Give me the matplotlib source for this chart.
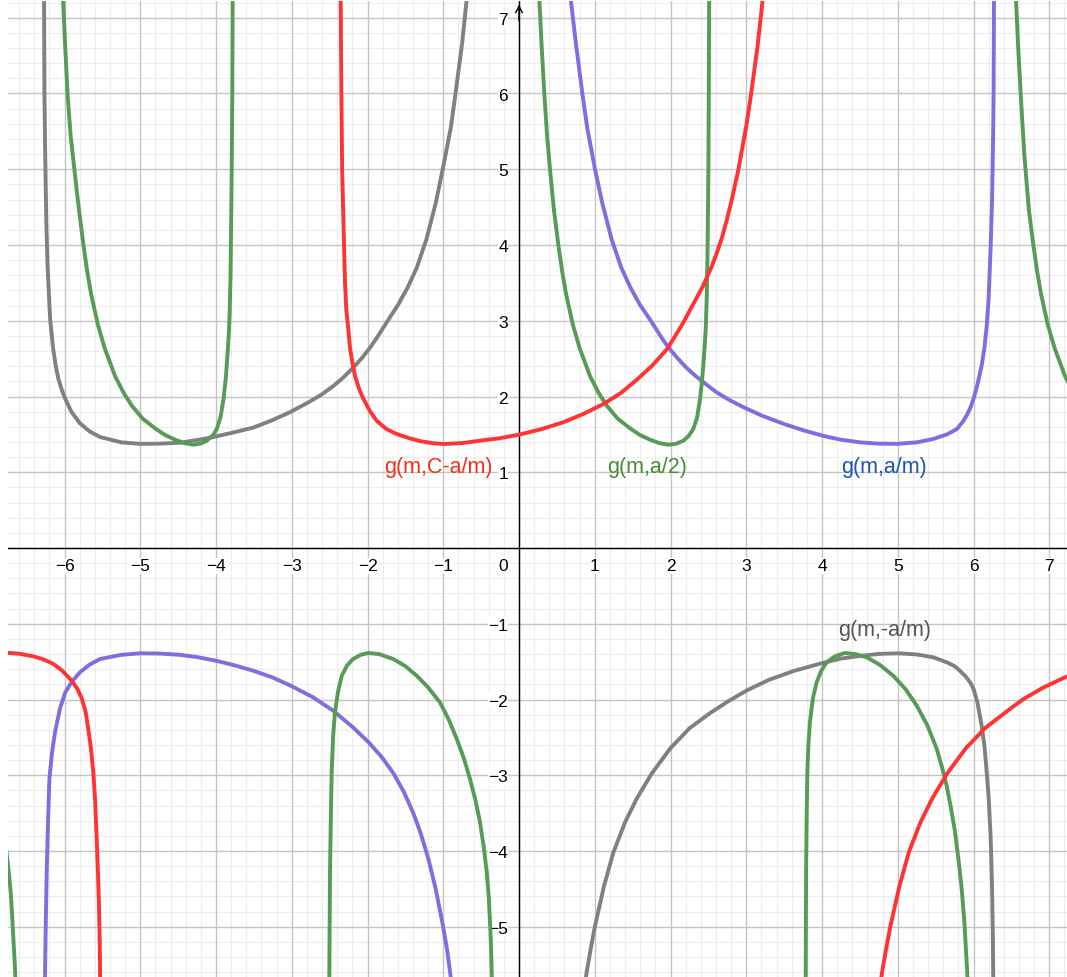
import numpy as np
import matplotlib
matplotlib.use('Agg')
import matplotlib.pyplot as plt

plt.rcParams['font.family'] = ['Liberation Sans', 'DejaVu Sans']

# Curve branches (x, y pairs)
# g(m,a/m) - purple
purple_pos_x = [0.66, 0.682, 0.75, 0.836, 0.9, 1.003, 1.1, 1.224, 1.35, 1.47, 1.597, 1.74, 1.88, 1.97,
                2.08, 2.2, 2.32, 2.433, 2.6, 2.785, 2.96, 3.2, 3.49, 3.75, 4.017, 4.25, 4.5, 4.75,
                5.0, 5.25, 5.47, 5.65, 5.78, 5.86, 5.91, 5.96, 6.0, 6.05, 6.108, 6.145, 6.174, 6.2,
                6.227, 6.245, 6.258, 6.265, 6.27, 6.272]
purple_pos_y = [7.6, 7.25, 6.67, 6.0, 5.55, 5.0, 4.55, 4.07, 3.7, 3.44, 3.21, 3.0, 2.78, 2.65,
                2.52, 2.39, 2.28, 2.19, 2.06, 1.95, 1.86, 1.75, 1.64, 1.555, 1.48, 1.43, 1.395, 1.378,
                1.375, 1.395, 1.44, 1.5, 1.57, 1.67, 1.75, 1.855, 1.97, 2.15, 2.41, 2.65, 2.93, 3.3,
                4.0, 4.6, 5.4, 6.0, 7.25, 7.6]
purple_neg_x = [-6.262, -6.257, -6.248, -6.235, -6.22, -6.2, -6.165, -6.125, -6.06, -5.99, -5.9,
                -5.795, -5.67, -5.53, -5.25, -5.0, -4.75, -4.475, -4.25, -3.99, -3.75, -3.507,
                -3.25, -3.01, -2.72, -2.45, -2.2, -1.99, -1.82, -1.66, -1.52, -1.395, -1.3,
                -1.197, -1.1, -1.007, -0.95, -0.91, -0.86]
purple_neg_y = [-6.0, -5.62, -5.0, -4.28, -3.7, -3.05, -2.7, -2.43, -2.12, -1.905, -1.76,
                -1.64, -1.54, -1.465, -1.41, -1.39, -1.393, -1.41, -1.44, -1.49, -1.55, -1.62,
                -1.71, -1.82, -1.97, -2.15, -2.36, -2.56, -2.75, -2.97, -3.22, -3.5, -3.76,
                -4.1, -4.5, -4.97, -5.3, -5.6, -6.0]

# g(m,-a/m) - gray
gray_pos_x = [-6.272, -6.27, -6.265, -6.255, -6.24, -6.225, -6.19, -6.15, -6.115, -6.08, -6.03,
              -5.99, -5.91, -5.8, -5.67, -5.53, -5.25, -5.0, -4.75, -4.475, -4.25, -4.036, -3.75,
              -3.507, -3.25, -3.01, -2.785, -2.6, -2.45, -2.32, -2.2, -2.08, -1.97, -1.88, -1.74,
              -1.597, -1.47, -1.35, -1.224, -1.1, -1.007, -0.9, -0.845, -0.75, -0.69, -0.66]
gray_pos_y = [7.6, 7.25, 6.0, 5.2, 4.3, 3.75, 3.02, 2.63, 2.4, 2.23, 2.07,
              1.97, 1.8, 1.65, 1.54, 1.465, 1.395, 1.375, 1.378, 1.39, 1.425, 1.465, 1.53,
              1.59, 1.69, 1.8, 1.92, 2.03, 2.14, 2.25, 2.37, 2.5, 2.64, 2.77, 2.99,
              3.21, 3.44, 3.7, 4.07, 4.55, 5.0, 5.55, 5.95, 6.67, 7.25, 7.6]
gray_neg_x = [0.835, 0.893, 0.95, 1.003, 1.12, 1.245, 1.4, 1.553, 1.75, 1.993, 2.25, 2.521, 2.75,
              3.006, 3.3, 3.62, 4.017, 4.25, 4.5, 4.75, 5.007, 5.25, 5.47, 5.65, 5.75, 5.82, 5.9,
              5.96, 6.0, 6.05, 6.108, 6.145, 6.174, 6.2, 6.227, 6.245, 6.255, 6.26, 6.265]
gray_neg_y = [-6.0, -5.6, -5.27, -4.99, -4.47, -4.02, -3.62, -3.31, -2.98, -2.65, -2.38, -2.18, -2.03,
              -1.88, -1.74, -1.625, -1.515, -1.46, -1.425, -1.398, -1.39, -1.405, -1.443, -1.51, -1.56,
              -1.62, -1.7, -1.78, -1.86, -2.03, -2.35, -2.62, -2.96, -3.3, -3.84, -4.5, -5.1,
              -5.62, -6.0]

# g(m,C-a/m) - red
red_pos_x = [-2.357, -2.352, -2.345, -2.335, -2.31, -2.297, -2.28, -2.25, -2.23, -2.2, -2.165,
             -2.11, -2.055, -1.97, -1.88, -1.75, -1.615, -1.45, -1.3, -1.15, -1.0, -0.75, -0.515,
             -0.25, 0.0, 0.3, 0.585, 0.85, 1.113, 1.35, 1.553, 1.75, 1.95, 2.05, 2.16, 2.3,
             2.43, 2.55, 2.62, 2.68, 2.74, 2.8, 2.893, 3.0, 3.055, 3.15, 3.21, 3.24, 3.26]
red_pos_y = [7.6, 7.0, 6.0, 5.0, 4.0, 3.5, 3.15, 2.85, 2.63, 2.45, 2.27,
             2.1, 1.97, 1.81, 1.68, 1.57, 1.505, 1.45, 1.41, 1.385, 1.373, 1.385, 1.417,
             1.45, 1.496, 1.57, 1.66, 1.77, 1.9, 2.05, 2.22, 2.4, 2.62, 2.78, 2.96, 3.22,
             3.46, 3.73, 3.92, 4.1, 4.32, 4.56, 4.98, 5.57, 5.93, 6.63, 7.18, 7.5, 7.7]
red_left_x = [-6.85, -6.74, -6.6, -6.41, -6.28, -6.148, -6.03, -5.905, -5.83, -5.77, -5.72, -5.686,
              -5.65, -5.62, -5.595, -5.575, -5.558, -5.545, -5.535, -5.53, -5.527]
red_left_y = [-1.38, -1.385, -1.395, -1.43, -1.47, -1.53, -1.62, -1.75, -1.86, -1.99, -2.17, -2.39,
              -2.65, -2.96, -3.35, -3.84, -4.3, -4.72, -5.2, -5.62, -6.0]
red_right_x = [4.735, 4.793, 4.85, 4.903, 5.02, 5.145, 5.3, 5.453, 5.65, 5.893, 6.15, 6.421, 6.65,
               6.906, 7.2, 7.52]
red_right_y = [-6.0, -5.6, -5.27, -4.99, -4.47, -4.02, -3.62, -3.31, -2.98, -2.65, -2.38, -2.17, -2.0,
               -1.85, -1.71, -1.6]

# g(m,a/2) - green
green_a_x = [-6.03, -6.02, -5.99, -5.96, -5.92, -5.87, -5.81, -5.75, -5.7, -5.65, -5.56, -5.47,
             -5.333, -5.22, -5.112, -4.97, -4.805, -4.67, -4.54, -4.42, -4.3, -4.2, -4.12, -4.04,
             -3.99, -3.94, -3.9, -3.87, -3.845, -3.83, -3.82, -3.808, -3.8, -3.793, -3.785,
             -3.78, -3.778]
green_a_y = [7.6, 7.25, 6.6, 6.0, 5.45, 5.0, 4.47, 4.0, 3.65, 3.36, 2.95, 2.64,
             2.27, 2.05, 1.88, 1.71, 1.58, 1.49, 1.43, 1.385, 1.364, 1.38, 1.417, 1.49,
             1.57, 1.73, 1.97, 2.25, 2.6, 2.85, 3.1, 3.6, 4.3, 5.0, 6.0,
             7.25, 7.6]
green_b_x = [0.26, 0.268, 0.3, 0.334, 0.37, 0.409, 0.46, 0.519, 0.57, 0.62, 0.71, 0.8, 0.937, 1.05,
             1.158, 1.3, 1.465, 1.6, 1.73, 1.85, 1.97, 2.07, 2.17, 2.24, 2.3, 2.35, 2.39, 2.415,
             2.433, 2.45, 2.465, 2.478, 2.49, 2.5, 2.505, 2.51, 2.512]
green_b_y = [7.6, 7.25, 6.6, 6.0, 5.45, 5.0, 4.47, 4.0, 3.65, 3.36, 2.95, 2.64, 2.27, 2.05,
             1.88, 1.71, 1.58, 1.49, 1.43, 1.385, 1.364, 1.375, 1.417, 1.48, 1.57, 1.72, 1.97, 2.2,
             2.41, 2.65, 2.9, 3.3, 4.0, 5.0, 6.0, 7.25, 7.6]
green_c_x = [6.545, 6.56, 6.59, 6.625, 6.67, 6.73, 6.79, 6.84, 6.89, 6.98, 7.07, 7.207, 7.32]
green_c_y = [7.6, 7.25, 6.6, 5.95, 5.2, 4.47, 4.0, 3.65, 3.36, 2.95, 2.64, 2.27, 2.05]
green_d_x = [-6.8, -6.77, -6.74, -6.71, -6.69, -6.67, -6.65, -6.645]
green_d_y = [-3.75, -3.98, -4.24, -4.55, -4.88, -5.25, -5.62, -6.0]
green_e_x = [-2.506, -2.504, -2.5, -2.495, -2.485, -2.473, -2.455, -2.43, -2.39, -2.34, -2.27, -2.19,
             -2.09, -1.99, -1.85, -1.66, -1.5, -1.35, -1.2, -1.043, -0.93, -0.822, -0.73, -0.647,
             -0.575, -0.515, -0.465, -0.426, -0.4, -0.383, -0.37, -0.36, -0.355]
green_e_y = [-6.0, -5.62, -5.0, -4.28, -3.6, -2.96, -2.5, -2.17, -1.9, -1.686, -1.55, -1.465,
             -1.41, -1.386, -1.4, -1.465, -1.56, -1.686, -1.84, -2.04, -2.26, -2.52, -2.77, -3.05,
             -3.33, -3.62, -3.95, -4.28, -4.6, -4.94, -5.25, -5.62, -6.0]
green_f_x = [3.783, 3.785, 3.787, 3.79, 3.797, 3.806, 3.82, 3.84, 3.88, 3.93, 3.99, 4.06, 4.17, 4.3,
             4.44, 4.59, 4.76, 4.94, 5.1, 5.25, 5.39, 5.514, 5.58, 5.646, 5.7, 5.756, 5.8, 5.844,
             5.88, 5.918, 5.93]
green_f_y = [-6.0, -5.62, -5.0, -4.28, -3.6, -2.96, -2.6, -2.3, -1.98, -1.77, -1.62, -1.51, -1.43,
             -1.386, -1.4, -1.443, -1.54, -1.686, -1.86, -2.08, -2.34, -2.65, -2.88, -3.14, -3.42,
             -3.75, -4.1, -4.5, -4.95, -5.62, -6.0]

labels = ['g(m,C-a/m)', 'g(m,a/2)', 'g(m,a/m)', 'g(m,-a/m)']
label_x = [-1.07, 1.69, 4.82, 4.82]
label_y = [1.08, 1.08, 1.07, -1.07]
label_colors = ['#F5301A', '#4C8A32', '#1A54B5', '#555555']

x_ticks = [-6, -5, -4, -3, -2, -1, 1, 2, 3, 4, 5, 6, 7]
y_ticks = [-5, -4, -3, -2, -1, 1, 2, 3, 4, 5, 6, 7]

RED = '#FF3333'
GREEN = '#579B57'
PURPLE = '#7D6FE0'
GRAY = '#808080'

xmin, xmax = -6.746, 7.234
ymin, ymax = -5.663, 7.221

fig = plt.figure(figsize=(10.67, 9.78), dpi=100)
ax = fig.add_axes([8 / 1067, 0, 1059 / 1067, 976 / 978])
ax.set_xlim(xmin, xmax)
ax.set_ylim(ymin, ymax)
for s in ax.spines.values():
    s.set_visible(False)
ax.set_xticks([])
ax.set_yticks([])

# grid: minor every 0.2, major every 1
for v in np.arange(-7, 7.41, 0.2):
    if abs(v - round(v)) > 1e-6:
        ax.axvline(v, color='#ededed', lw=0.8, zorder=0)
for v in np.arange(-6, 7.41, 0.2):
    if abs(v - round(v)) > 1e-6:
        ax.axhline(v, color='#ededed', lw=0.8, zorder=0)
for v in range(-7, 8):
    ax.axvline(v, color='#c4c4c4', lw=1.0, zorder=0.5)
for v in range(-6, 8):
    ax.axhline(v, color='#c4c4c4', lw=1.0, zorder=0.5)

# axes
ax.axhline(0, color='black', lw=1.0, zorder=1)
ax.axvline(0, color='black', lw=1.0, zorder=1)
ax.annotate('', xy=(0, ymax - 0.01), xytext=(0, ymax - 0.3),
            arrowprops=dict(arrowstyle='->', color='black', lw=1.0,
                            mutation_scale=12), zorder=1)

tick_font = dict(fontsize=12.5, color='black',
                 bbox=dict(facecolor='white', edgecolor='none', pad=0.3))
for t in x_ticks:
    lab = str(t).replace('-', '\u2212')
    ax.text(t, -0.234, lab, ha='center', va='center', zorder=2, **tick_font)
for t in y_ticks:
    lab = str(t).replace('-', '\u2212')
    ax.text(-0.145, t - 0.02, lab, ha='right', va='center', zorder=2, **tick_font)
ax.text(-0.21, -0.234, '0', ha='center', va='center', zorder=2, **tick_font)

lw = 2.8
branches = [
    (purple_pos_x, purple_pos_y, PURPLE), (purple_neg_x, purple_neg_y, PURPLE),
    (gray_pos_x, gray_pos_y, GRAY), (gray_neg_x, gray_neg_y, GRAY),
    (green_a_x, green_a_y, GREEN), (green_b_x, green_b_y, GREEN),
    (green_c_x, green_c_y, GREEN), (green_d_x, green_d_y, GREEN),
    (green_e_x, green_e_y, GREEN), (green_f_x, green_f_y, GREEN),
    (red_pos_x, red_pos_y, RED), (red_left_x, red_left_y, RED),
    (red_right_x, red_right_y, RED),
]
for bx, by, c in branches:
    ax.plot(bx, by, color=c, lw=lw, zorder=3, solid_joinstyle='round')

for txt, lx, ly, c in zip(labels, label_x, label_y, label_colors):
    ax.text(lx, ly, txt, color=c, fontsize=15.5, ha='center', va='center', zorder=4)

fig.savefig('out.png', dpi=100)
